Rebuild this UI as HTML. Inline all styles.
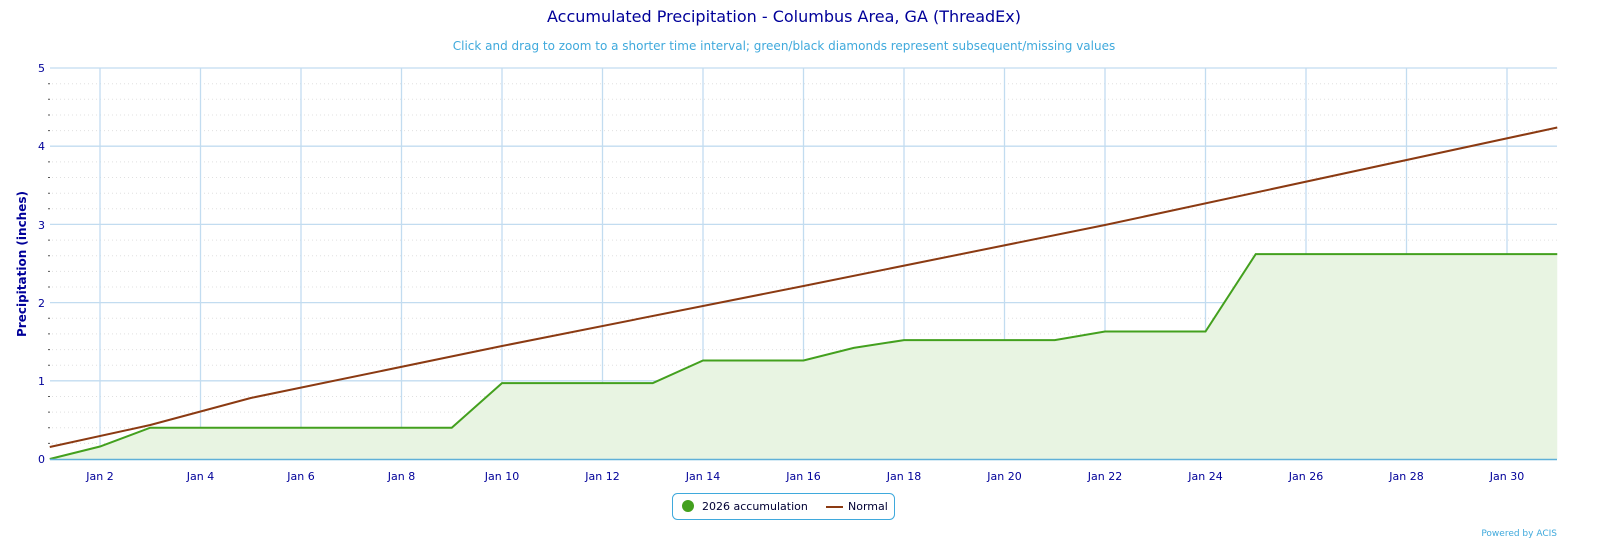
<!DOCTYPE html>
<html><head><meta charset="utf-8"><style>
body{margin:0;background:#fff;width:1600px;height:552px;overflow:hidden;font-family:"DejaVu Sans","Liberation Sans",sans-serif}
</style></head><body>
<svg width="1600" height="552" xmlns="http://www.w3.org/2000/svg" font-family="DejaVu Sans, Liberation Sans, sans-serif">
<text x="784" y="22" text-anchor="middle" font-size="16" fill="#000099">Accumulated Precipitation - Columbus Area, GA (ThreadEx)</text>
<text x="784" y="50" text-anchor="middle" font-size="12" fill="#3fa9dc">Click and drag to zoom to a shorter time interval; green/black diamonds represent subsequent/missing values</text>
<g stroke="#e0e0e0" stroke-dasharray="1,3" stroke-width="1">
<path d="M52 443.4H1557M52 427.7H1557M52 412.1H1557M52 396.5H1557M52 365.2H1557M52 349.6H1557M52 333.9H1557M52 318.3H1557M52 287H1557M52 271.4H1557M52 255.7H1557M52 240.1H1557M52 208.8H1557M52 193.2H1557M52 177.5H1557M52 161.9H1557M52 130.6H1557M52 115H1557M52 99.3H1557M52 83.7H1557"/>
</g>
<g stroke="#555" stroke-width="1">
<path d="M48 443.4h2M48 427.7h2M48 412.1h2M48 396.5h2M48 365.2h2M48 349.6h2M48 333.9h2M48 318.3h2M48 287h2M48 271.4h2M48 255.7h2M48 240.1h2M48 208.8h2M48 193.2h2M48 177.5h2M48 161.9h2M48 130.6h2M48 115h2M48 99.3h2M48 83.7h2"/>
</g>
<g stroke="#c2dcf0" stroke-width="1.3">
<path d="M50 68H1557M50 146.2H1557M50 224.4H1557M50 302.6H1557M50 380.8H1557"/>
<path d="M100 68V459M200.5 68V459M301 68V459M401.5 68V459M502 68V459M602.5 68V459M703 68V459M803.5 68V459M904 68V459M1004.5 68V459M1105 68V459M1205.5 68V459M1306 68V459M1406.5 68V459M1507 68V459"/>
</g>
<path d="M49.75 459L100 446.5L150.25 427.7L451.75 427.7L502 383.1L652.75 383.1L703 360.5L803.5 360.5L853.75 347.9L904 340.1L1054.75 340.1L1105 331.5L1205.5 331.5L1255.75 254.1L1557.25 254.1L1557.25 459Z" fill="#e8f4e2"/>
<path d="M49.75 459L100 446.5L150.25 427.7L451.75 427.7L502 383.1L652.75 383.1L703 360.5L803.5 360.5L853.75 347.9L904 340.1L1054.75 340.1L1105 331.5L1205.5 331.5L1255.75 254.1L1557.25 254.1" fill="none" stroke="#43a01e" stroke-width="2"/>
<path d="M49.75 447L150.25 425L250.75 398L502 346L803.5 286L1105 225L1557.25 127.5" fill="none" stroke="#8b3a12" stroke-width="2"/>
<line x1="50" y1="459.5" x2="1557" y2="459.5" stroke="#5fb0d8" stroke-width="1.5"/>
<g font-size="11" fill="#000099" text-anchor="middle">
<text x="100" y="480">Jan 2</text><text x="200.5" y="480">Jan 4</text><text x="301" y="480">Jan 6</text><text x="401.5" y="480">Jan 8</text><text x="502" y="480">Jan 10</text><text x="602.5" y="480">Jan 12</text><text x="703" y="480">Jan 14</text><text x="803.5" y="480">Jan 16</text><text x="904" y="480">Jan 18</text><text x="1004.5" y="480">Jan 20</text><text x="1105" y="480">Jan 22</text><text x="1205.5" y="480">Jan 24</text><text x="1306" y="480">Jan 26</text><text x="1406.5" y="480">Jan 28</text><text x="1507" y="480">Jan 30</text>
</g>
<g font-size="11" fill="#000099" text-anchor="end">
<text x="45" y="463">0</text><text x="45" y="385">1</text><text x="45" y="307">2</text><text x="45" y="229">3</text><text x="45" y="150">4</text><text x="45" y="72">5</text>
</g>
<text transform="translate(26,264) rotate(-90)" text-anchor="middle" font-size="12" font-weight="bold" fill="#000099">Precipitation (inches)</text>
<rect x="672.5" y="493.5" width="222" height="26" rx="5" fill="#fff" stroke="#3fa9dc"/>
<circle cx="688" cy="506" r="6" fill="#43a01e"/>
<text x="702" y="510" font-size="11" fill="#000033">2026 accumulation</text>
<line x1="826" y1="507" x2="843" y2="507" stroke="#8b3a12" stroke-width="2"/>
<text x="848" y="510" font-size="11" fill="#000033">Normal</text>
<text x="1557" y="536" text-anchor="end" font-size="9" fill="#3fa9dc">Powered by ACIS</text>
</svg>
</body></html>
